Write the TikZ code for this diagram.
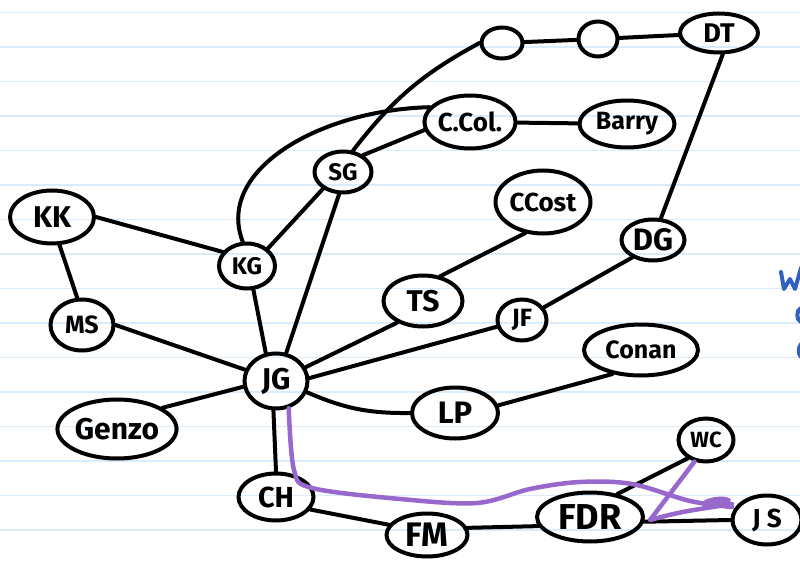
\documentclass[tikz,border=0pt]{standalone}
\usepackage{fontspec}
\setmainfont{Fira Sans}
\usetikzlibrary{shapes.geometric}

\definecolor{rulecol}{RGB}{218,236,250}
\definecolor{penpurple}{RGB}{153,104,204}
\definecolor{inkblue}{RGB}{48,96,192}

\begin{document}
\begin{tikzpicture}[x=1pt, y=-1pt,
    person/.style={draw, ellipse, line width=4pt, inner sep=0pt,
                   font=\fontsize{30}{30}\selectfont\bfseries},
    tie/.style={line width=4pt, line cap=round},
    route/.style={penpurple, line width=4.5pt, line cap=round, line join=round},
    scribble/.style={inkblue, line width=4pt, line cap=round, line join=round}
  ]
  \useasboundingbox (0,0) rectangle (800,561);
  \clip (0,0) rectangle (800,561);
  \fill[white] (0,0) rectangle (800,561);

  % ruled paper
  \foreach \k in {0,...,15}
    \draw[rulecol, line width=1.5pt] (0,12.7+34.5*\k) -- (800,12.7+34.5*\k);

  % top row
  \node[person, minimum width=41pt, minimum height=31pt] (anon1) at (502,43) {};
  \node[person, minimum width=39pt, minimum height=35pt] (anon2) at (598,39) {};
  \node[person, minimum width=78pt, minimum height=39pt, font=\fontsize{27}{27}\selectfont\bfseries]
    (dt) at (719,33) {DT};

  % upper middle
  \node[person, minimum width=77pt, minimum height=53pt, font=\fontsize{26}{26}\selectfont\bfseries]
    (ccol) at (470,122) {C.Col.};
  \node[person, minimum width=95pt, minimum height=47pt, font=\fontsize{25}{25}\selectfont\bfseries]
    (barry) at (627,124) {Barry};
  \node[person, minimum width=95pt, minimum height=63pt, font=\fontsize{26}{26}\selectfont\bfseries]
    (ccost) at (543,202) {CCost};
  \node[person, minimum width=63pt, minimum height=41pt, font=\fontsize{31}{31}\selectfont\bfseries]
    (dg) at (653,240) {DG};
  \node[person, minimum width=57pt, minimum height=41pt, font=\fontsize{24}{24}\selectfont\bfseries]
    (sg) at (343,172) {SG};

  % left side
  \node[person, minimum width=84pt, minimum height=53pt] (kk) at (52,217) {KK};
  \node[person, minimum width=56pt, minimum height=45pt, font=\fontsize{24}{24}\selectfont\bfseries]
    (kg) at (247,266) {KG};
  \node[person, minimum width=63pt, minimum height=51pt, font=\fontsize{25}{25}\selectfont\bfseries]
    (ms) at (82,325) {MS};
  \node[person, minimum width=108pt, minimum height=59pt, font=\fontsize{30}{30}\selectfont\bfseries]
    (genzo) at (117,429) {Genzo};

  % centre
  \node[person, minimum width=63pt, minimum height=55pt] (jg) at (276,381) {JG};
  \node[person, minimum width=79pt, minimum height=51pt] (ts) at (423,301) {TS};
  \node[person, minimum width=49pt, minimum height=41pt, font=\fontsize{25}{25}\selectfont\bfseries]
    (jf) at (522,320) {JF};
  \node[person, minimum width=114pt, minimum height=51pt, font=\fontsize{25}{25}\selectfont\bfseries]
    (conan) at (641,350) {Conan};
  \node[person, minimum width=86pt, minimum height=51pt, font=\fontsize{31}{31}\selectfont\bfseries]
    (lp) at (455,413) {LP};

  % bottom row
  \node[person, minimum width=75pt, minimum height=47pt, font=\fontsize{29}{29}\selectfont\bfseries]
    (ch) at (276,497) {CH};
  \node[person, minimum width=81pt, minimum height=43pt, font=\fontsize{34}{34}\selectfont\bfseries]
    (fm) at (427,535) {FM};
  \node[person, minimum width=106pt, minimum height=49pt, font=\fontsize{36}{36}\selectfont\bfseries]
    (fdr) at (590,517) {FDR};
  \node[person, minimum width=69pt, minimum height=49pt, font=\fontsize{26}{26}\selectfont\bfseries]
    (js) at (767,520) {J S};
  \node[person, minimum width=55pt, minimum height=43pt, font=\fontsize{22}{22}\selectfont\bfseries]
    (wc) at (706,440) {WC};

  % ties
  \draw[tie] (anon1) -- (anon2);
  \draw[tie] (anon2) -- (dt);
  \draw[tie] (anon1.west) to[bend right=12] (sg.65);
  \draw[tie] (sg.40) -- (ccol.190);
  \draw[tie] (kg.100) .. controls (215,170) and (320,110) .. (ccol.160);
  \draw[tie] (ccol) -- (barry);
  \draw[tie] (dt.-80) -- (dg.70);
  \draw[tie] (ccost.-120) -- (ts.55);
  \draw[tie] (dg.-140) -- (jf.30);
  \draw[tie] (kk.east) -- (kg.150);
  \draw[tie] (kk.-75) -- (ms.100);
  \draw[tie] (kg.40) -- (sg.-140);
  \draw[tie] (kg.-75) -- (jg.110);
  \draw[tie] (sg.-100) -- (jg.70);
  \draw[tie] (ms.east) -- (jg.160);
  \draw[tie] (genzo.25) -- (jg.190);
  \draw[tie] (jg.25) -- (ts.-140);
  \draw[tie] (jg.5) -- (jf.-165);
  \draw[tie] (jg.-20) to[bend right=12] (lp.west);
  \draw[tie] (lp.10) -- (conan.-140);
  \draw[tie] (jg.-95) -- (ch.90);
  \draw[tie] (ch.-20) -- (fm.165);
  \draw[tie] (fm.10) -- (fdr.190);
  \draw[tie] (fdr.-5) -- (js.180);
  \draw[tie] (fdr.40) -- (wc.-135);

  % highlighted route
  \draw[route] plot[smooth, tension=0.55] coordinates {(jg.-65) (294,470) (312,488)
    (400,499) (477,503) (530,489) (580,482) (632,484) (690,501) (732,507)};
  \draw[route] (wc.-118) -- (650,520) .. controls (680,512) .. (732,504);
  \fill[penpurple, rotate around={8:(716,502)}] (716,502) ellipse (15 and 5);

  % notes running off the page
  \draw[scribble] (781,272) -- (784,289) -- (790,279) -- (795,289) -- (801,268);
  \draw[scribble] (801,308) .. controls (796,310) and (796,320) .. (801,322);
  \draw[scribble] (801,344) .. controls (798,348) and (798,354) .. (801,357);
\end{tikzpicture}
\end{document}
